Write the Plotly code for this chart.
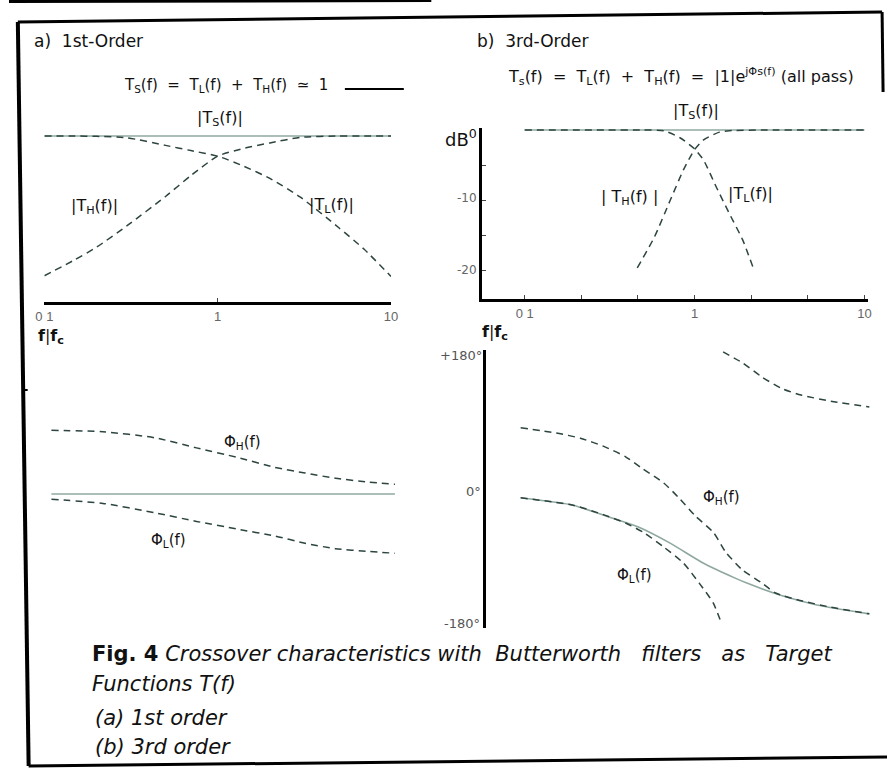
import plotly.graph_objects as go

# ---------------- data ----------------
# (a) 1st order, magnitude in dB
F1_MAG = [0.1, 0.15, 0.2, 0.3, 0.5, 0.7, 1.0, 1.4, 2.0, 3.0, 5.0, 7.0, 10.0]
TL1_DB = [0.0, 0.0, -0.05, -0.25, -1.35, -2.1, -2.9, -4.3, -6.1, -8.8, -13.2, -16.3, -20.2]
TH1_DB = [-20.1, -17.8, -16.0, -12.9, -8.7, -5.7, -2.9, -1.8, -1.0, -0.2, 0.0, 0.0, 0.0]
TS1_F = [0.1, 10.0]
TS1_DB = [0.0, 0.0]

# (a) 1st order, phase in degrees
F1_PH = [0.1, 0.2, 0.4, 0.7, 1.2, 2.0, 3.0, 4.5, 7.0, 10.0]
PHI_H1 = [85, 83, 75, 61.5, 49, 35.5, 28, 21, 16, 13]
PHI_L1 = [-7, -12.5, -25, -36.5, -46.6, -56, -65.6, -72.9, -76.5, -79]
TS1_PH = [0.0, 0.0]

# (b) 3rd order, magnitude in dB
TL3_F = [0.1, 0.3, 0.5, 0.66, 0.82, 1.0, 1.13, 1.34, 1.6, 1.92, 2.2]
TL3_DB = [0.0, 0.0, 0.0, -0.1, -1.1, -2.7, -4.3, -8.1, -11.9, -15.7, -19.5]
TH3_F = [0.46, 0.58, 0.72, 0.86, 1.0, 1.13, 1.4, 1.6, 2.5, 5.0, 10.0]
TH3_DB = [-19.7, -15.3, -10.0, -5.7, -2.8, -1.4, -0.3, -0.1, 0.0, 0.0, 0.0]
TS3_F = [0.1, 10.0]
TS3_DB = [0.0, 0.0]

# (b) 3rd order, phase in degrees
TS3_PH_F = [0.1, 0.2, 0.33, 0.47, 0.72, 1.12, 1.7, 2.0, 3.1, 5.0, 10.0]
TS3_PH = [-9, -19, -36, -48, -70, -97, -117, -124, -140, -153, -165]
PHI_H3_F = [0.1, 0.16, 0.22, 0.3, 0.4, 0.5, 0.66, 0.8, 1.0, 1.28, 1.5, 1.87, 2.4, 2.9, 4.0, 6.0, 10.0]
PHI_H3 = [85, 78, 71, 60, 46, 30, 11, -8, -33, -56, -82, -106, -123, -137, -147, -156, -165]
PHI_L3A_F = [0.1, 0.2, 0.3, 0.4, 0.51, 0.66, 0.86, 1.06, 1.27, 1.41]
PHI_L3A = [-9, -19, -32, -43, -56, -75, -97, -124, -150, -176]
PHI_L3B_F = [1.45, 1.88, 2.43, 3.13, 4.06, 6.26, 10.0]
PHI_L3B = [187, 172, 153, 138, 129, 120, 113]

X_TICKS_A = [0.1, 1, 10]
X_TICKTEXT_A = ["0 1", "1", "10"]
X_TICKS_B = [0.1, 0.215, 0.464, 1, 2.15, 4.64, 10]
X_TICKTEXT_B = ["0 1", "", "", "1", "", "", "10"]
Y_TICKS_B = [-5, -10, -15, -20]

# ---------------- layout helpers ----------------
W, H = 894, 777
def px(x):
    return x / W
def py(y):
    return 1 - y / H

DASH_C = "#2c4540"
SOLID_C = "#8fa89f"
FONT = "DejaVu Sans, Liberation Sans, sans-serif"
DASH = "7px,5px"

fig = go.Figure()

def dashed(x, y, xa, ya):
    fig.add_trace(go.Scatter(x=x, y=y, mode="lines", xaxis=xa, yaxis=ya,
                             line=dict(color=DASH_C, width=1.5, dash=DASH, shape="spline", smoothing=0.6),
                             hoverinfo="skip", showlegend=False))

def solid(x, y, xa, ya):
    fig.add_trace(go.Scatter(x=x, y=y, mode="lines", xaxis=xa, yaxis=ya,
                             line=dict(color=SOLID_C, width=1.6, shape="spline", smoothing=0.6),
                             hoverinfo="skip", showlegend=False))

# (a) magnitude
solid(TS1_F, TS1_DB, "x", "y")
dashed(F1_MAG, TL1_DB, "x", "y")
dashed(F1_MAG, TH1_DB, "x", "y")
# (a) phase
solid(TS1_F, TS1_PH, "x2", "y2")
dashed(F1_PH, PHI_H1, "x2", "y2")
dashed(F1_PH, PHI_L1, "x2", "y2")
# (b) magnitude
solid(TS3_F, TS3_DB, "x3", "y3")
dashed(TL3_F, TL3_DB, "x3", "y3")
dashed(TH3_F, TH3_DB, "x3", "y3")
# (b) phase
solid(TS3_PH_F, TS3_PH, "x4", "y4")
dashed(PHI_H3_F, PHI_H3, "x4", "y4")
dashed(PHI_L3A_F, PHI_L3A, "x4", "y4")
dashed(PHI_L3B_F, PHI_L3B, "x4", "y4")

hidden = dict(visible=False, showgrid=False, zeroline=False)
tickfont = dict(family="Liberation Sans, Arial, sans-serif", size=13, color="#666666")

fig.update_layout(
    width=W, height=H, margin=dict(l=0, r=0, t=0, b=0),
    paper_bgcolor="white", plot_bgcolor="rgba(0,0,0,0)",
    showlegend=False,
    # (a) magnitude
    xaxis=dict(type="log", domain=[px(36), px(389)], range=[-1, 1], anchor="y",
               showline=True, linewidth=3, linecolor="black", showgrid=False, zeroline=False,
               ticks="inside", ticklen=4, tickcolor="#444", tickvals=X_TICKS_A,
               ticktext=X_TICKTEXT_A, tickfont=tickfont),
    yaxis=dict(domain=[py(302), py(110)], range=[-23.88, 3.74], anchor="x", **hidden),
    # (a) phase
    xaxis2=dict(type="log", domain=[px(43), px(393)], range=[-1, 1], anchor="y2", **hidden),
    yaxis2=dict(domain=[py(600), py(380)], range=[-141.3, 152], anchor="x2", **hidden),
    # (b) magnitude
    xaxis3=dict(type="log", domain=[px(482), px(875)], range=[-1.249, 1.023], anchor="y3",
                showline=True, linewidth=3, linecolor="black", showgrid=False, zeroline=False,
                ticks="inside", ticklen=4, tickcolor="#444", tickvals=X_TICKS_B,
                ticktext=X_TICKTEXT_B, tickfont=tickfont),
    yaxis3=dict(domain=[py(299), py(128)], range=[-24.14, 0.29], anchor="x3",
                showline=True, linewidth=3, linecolor="black", showgrid=False, zeroline=False,
                ticks="inside", ticklen=4, tickcolor="#444", tickvals=Y_TICKS_B,
                showticklabels=False),
    # (b) phase
    xaxis4=dict(type="log", domain=[px(486), px(880)], range=[-1.197, 1.0225], anchor="y4", **hidden),
    yaxis4=dict(domain=[py(628), py(350)], range=[-184, 189.5], anchor="x4",
                showline=True, linewidth=3, linecolor="black", showgrid=False, zeroline=False,
                ticks="", showticklabels=False),
)

def note(text, x, y, size=15, color="#111111", xanchor="center", family=FONT):
    fig.add_annotation(text=text, x=px(x), y=py(y), xref="paper", yref="paper",
                       xanchor=xanchor, yanchor="middle", showarrow=False,
                       font=dict(family=family, size=size, color=color))

# panel titles
note("a)  1st-Order", 23, 41, size=17, xanchor="left")
note("b)  3rd-Order", 475, 41, size=17, xanchor="left")
# formulas
note("T<sub>S</sub>(f)  =  T<sub>L</sub>(f)  +  T<sub>H</sub>(f)  ≃  1", 221, 86, size=15)
note("T<sub>s</sub>(f)  =  T<sub>L</sub>(f)  +  T<sub>H</sub>(f)  =  |1|e<sup>jΦs(f)</sup> (all pass)",
     684, 77, size=16)
# curve labels (a)
note("|T<sub>S</sub>(f)|", 215, 119, size=16)
note("|T<sub>H</sub>(f)|", 87, 206, size=16)
note("|T<sub>L</sub>(f)|", 328, 205, size=16)
note("Φ<sub>H</sub>(f)", 238, 442, size=15)
note("Φ<sub>L</sub>(f)", 162, 540, size=15)
# curve labels (b)
note("|T<sub>S</sub>(f)|", 700, 112, size=16)
note("| T<sub>H</sub>(f) |", 632, 197, size=16)
note("|T<sub>L</sub>(f)|", 755, 195, size=16)
note("Φ<sub>H</sub>(f)", 725, 497, size=15)
note("Φ<sub>L</sub>(f)", 637, 575, size=15)
# axis labels
note("<b>f</b>|<b>f<sub>c</sub></b>", 43, 337, size=16)
note("<b>f</b>|<b>f<sub>c</sub></b>", 495, 332, size=16)
note("dB<sup>0</sup>", 460, 138, size=18)
note("-10", 466, 198, size=12, color="#666")
note("-20", 466, 270, size=12, color="#666")
note("+180°", 460, 355, size=13, color="#555")
note("0°", 473, 491, size=13, color="#555")
note("-180°", 461, 623, size=13, color="#555")

# caption
CAP = "DejaVu Sans, Noto Sans, sans-serif"
note("<b>Fig. 4</b> <i>Crossover characteristics with  Butterworth   filters   as   Target</i>",
     82, 654, size=21, xanchor="left", family=CAP)
note("<i>Functions T(f)</i>", 82, 684, size=21, xanchor="left", family=CAP)
note("<i>(a) 1st order</i>", 86, 718, size=21, xanchor="left", family=CAP)
note("<i>(b) 3rd order</i>", 86, 747, size=21, xanchor="left", family=CAP)

# frame and legend segment
def seg(x0, y0, x1, y1, w=3, c="black"):
    fig.add_shape(type="line", xref="paper", yref="paper",
                  x0=px(x0), y0=py(y0), x1=px(x1), y1=py(y1),
                  line=dict(color=c, width=w))

seg(342, 89, 402, 89, w=2)            # legend for solid line
seg(9, 22, 889, 12, w=3)              # top frame
seg(9, 22, 20, 766, w=4)              # left frame
seg(20, 766, 894, 757, w=3)           # bottom frame
seg(889, 12, 890, 92, w=3)            # right frame (partial)
seg(0, 1.5, 430, 0.5, w=3)            # remnant line at top
seg(14, 390, 19, 390, w=2)            # tick on left border

fig.write_html("out.html", config={"displayModeBar": False},
               post_script="document.body.style.margin='0px';")
